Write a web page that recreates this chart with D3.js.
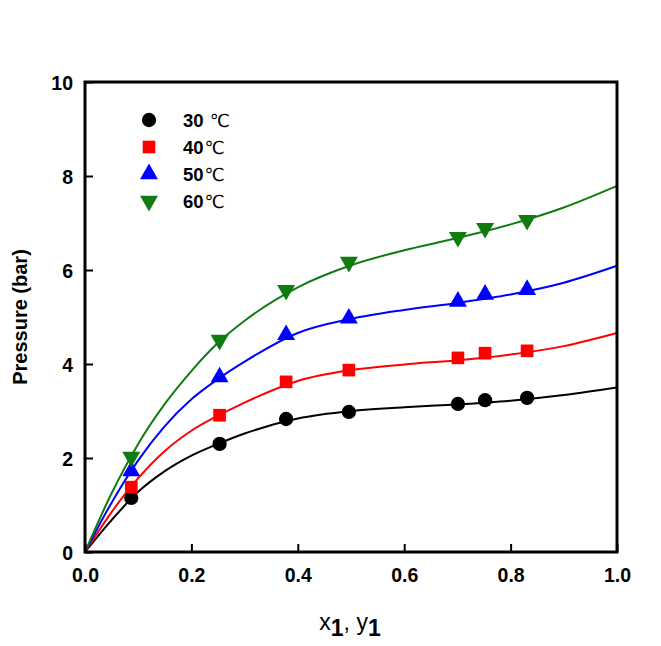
<!DOCTYPE html>
<html><head><meta charset="utf-8">
<script src="https://cdn.jsdelivr.net/npm/d3@7"></script>
<style>body{margin:0;background:#fff}svg{display:block}</style>
</head><body>
<svg id="c" width="661" height="646"></svg>
<script>
const series = ["30 ℃","40℃","50℃","60℃"];
const colors = ["#000000","#ff0000","#0000ff","#107c10"];
const symbols = ["circle","square","triangle","triangleDown"];
const xData = [0.087,0.253,0.378,0.496,0.701,0.752,0.831];
const p30 = [1.15,2.30,2.83,2.98,3.15,3.23,3.28];
const p40 = [1.38,2.91,3.62,3.87,4.13,4.23,4.28];
const p50 = [1.72,3.72,4.62,4.97,5.33,5.48,5.58];
const p60 = [2.02,4.51,5.57,6.17,6.70,6.89,7.06];
const xCurve = [0,0.05,0.1,0.15,0.2,0.25,0.3,0.4,0.5,0.6,0.7,0.8,0.9,1.0];
const c30 = [0,0.68,1.28,1.72,2.05,2.30,2.52,2.84,3.00,3.08,3.14,3.22,3.34,3.50];
const c40 = [0,0.85,1.57,2.15,2.58,2.90,3.18,3.64,3.87,3.99,4.08,4.20,4.38,4.66];
const c50 = [0,1.05,1.95,2.68,3.25,3.68,4.05,4.66,4.96,5.15,5.30,5.48,5.73,6.09];
const c60 = [0,1.25,2.30,3.15,3.85,4.45,4.92,5.63,6.10,6.42,6.68,6.97,7.33,7.79];
const xTicks = [0,0.2,0.4,0.6,0.8,1.0];
const yTicks = [0,2,4,6,8,10];

const points = [p30,p40,p50,p60];
const curves = [c30,c40,c50,c60];

const svg = d3.select("#c");
const x = d3.scaleLinear().domain([0,1]).range([85,617]);
const y = d3.scaleLinear().domain([0,10]).range([552,82]);
const font = "'Liberation Sans', Arial, sans-serif";

// curves
const line = d3.line().x(d=>x(d[0])).y(d=>y(d[1])).curve(d3.curveMonotoneX);
curves.forEach((c,i)=>{
  svg.append("path").attr("d", line(xCurve.map((v,j)=>[v,c[j]])))
    .attr("fill","none").attr("stroke",colors[i]).attr("stroke-width",2);
});

function sym(name, size){
  if(name==="triangleDown") return d3.symbol().type(d3.symbolTriangle).size(size)();
  const t = {circle:d3.symbolCircle, square:d3.symbolSquare, triangle:d3.symbolTriangle}[name];
  return d3.symbol().type(t).size(size)();
}
const sizes = {circle:160, square:160, triangle:140, triangleDown:140};
function marker(g, i, cx, cy){
  const s = symbols[i];
  g.append("path").attr("d", sym(s, sizes[s]))
    .attr("transform", `translate(${cx},${cy})` + (s==="triangleDown"?" rotate(180)":""))
    .attr("fill", colors[i]);
}
points.forEach((p,i)=>{
  const g = svg.append("g");
  xData.forEach((xv,j)=>marker(g,i,x(xv),y(p[j])));
});

// axes
const xAxis = d3.axisBottom(x).tickValues(xTicks).tickSize(-8).tickPadding(14).tickFormat(d3.format(".1f"));
const yAxis = d3.axisLeft(y).tickValues(yTicks).tickSize(-8).tickPadding(12).tickFormat(d3.format("d"));
const gx = svg.append("g").attr("transform","translate(0,552)").call(xAxis);
const gy = svg.append("g").attr("transform","translate(85,0)").call(yAxis);
[gx,gy].forEach(g=>{
  g.select(".domain").remove();
  g.selectAll(".tick line").attr("stroke","#000").attr("stroke-width",2);
  g.selectAll(".tick text").attr("font-family",font).attr("font-weight","bold").attr("font-size",19.5).attr("fill","#000");
});
gx.selectAll(".tick text").attr("dy","0.8em");
gy.selectAll(".tick text").attr("dy","0.36em");
// frame
svg.append("rect").attr("x",x(0)).attr("y",y(10)).attr("width",x(1)-x(0)).attr("height",y(0)-y(10))
  .attr("fill","none").attr("stroke","#000").attr("stroke-width",3);

// titles
svg.append("text").attr("transform","translate(27,317) rotate(-90)").attr("text-anchor","middle")
  .attr("font-family",font).attr("font-weight","bold").attr("font-size",20).text("Pressure (bar)");
const xt = svg.append("text").attr("x",350).attr("y",630).attr("text-anchor","middle")
  .attr("font-family",font).attr("font-size",23);
xt.append("tspan").text("x");
xt.append("tspan").attr("dy",6).attr("font-weight","bold").text("1");
xt.append("tspan").attr("dy",-6).text(", y");
xt.append("tspan").attr("dy",6).attr("font-weight","bold").text("1");

// legend
const lg = svg.append("g");
const ly = [120,147,174,201];
series.forEach((s,i)=>{
  marker(lg,i,149,ly[i]);
  const m = s.match(/^(\d+)(\s?)(℃)$/);
  const t = lg.append("text").attr("x",183).attr("y",ly[i]+7).attr("font-family",font).attr("font-size",18.5);
  t.append("tspan").attr("font-weight","bold").text(m[1]+m[2]);
  t.append("tspan").attr("font-family","'DejaVu Sans', sans-serif").attr("font-weight",400).attr("font-size",18).attr("dx",1).text(m[3]);
});
</script>
</body></html>
